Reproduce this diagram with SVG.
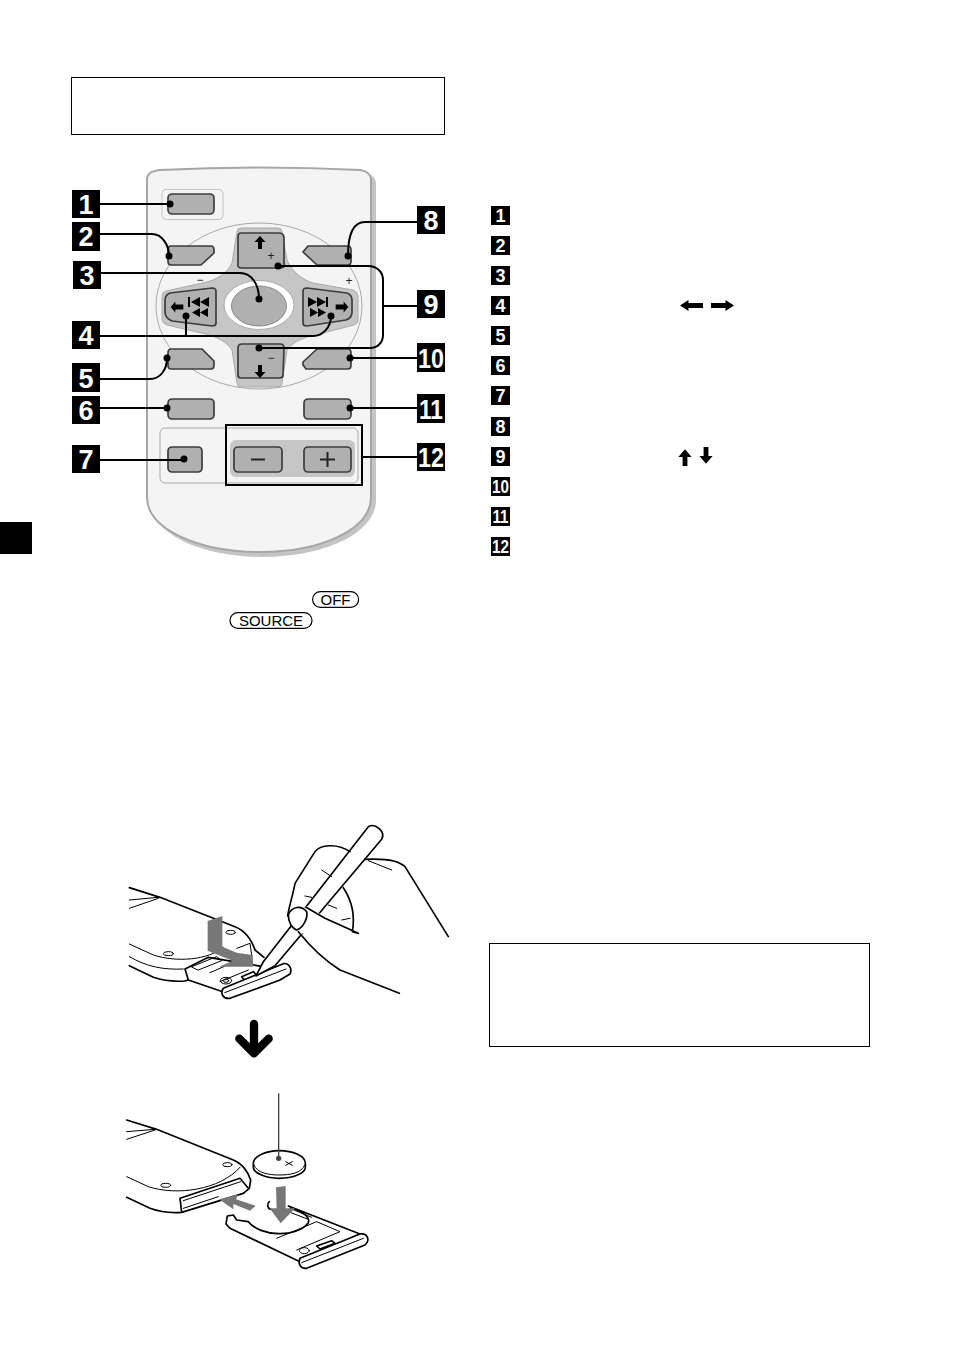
<svg xmlns="http://www.w3.org/2000/svg" width="954" height="1352" viewBox="0 0 954 1352">
<style>
text{font-family:"Liberation Sans",Arial,sans-serif}
.badge{fill:#000}
.bt{fill:#fff;font-weight:bold;text-anchor:middle}
.btn{fill:#b0b0b0;stroke:#3c3c3c;stroke-width:1.7;stroke-linejoin:round}
.wire{fill:none;stroke:#000;stroke-width:2}
.dot{fill:#000}
.ink{fill:none;stroke:#000;stroke-width:5;stroke-linecap:round;stroke-linejoin:round}
.thin{fill:none;stroke:#000;stroke-width:3;stroke-linecap:round;stroke-linejoin:round}
.wf{fill:#fff;stroke:#000;stroke-width:5;stroke-linejoin:round}
.ga{fill:#777}
.k{fill:none;stroke:#000;stroke-width:1.2}
.kt{font-size:15px;fill:#000;text-anchor:middle}
.sym{font-size:12px;fill:#222;text-anchor:middle}
</style>
<defs>
<path id="ar" d="M0,-6 L5.5,0 H2 V7 H-2 V0 H-5.500 Z" fill="#000"/>
<path id="arw" d="M-11.500,0 L-3,-5.500 V-2.500 H11.500 V2.500 H-3 V5.500 Z" fill="#000"/>
</defs>

<rect x="71.500" y="77.500" width="373" height="57" fill="#fff" stroke="#000" stroke-width="1"/>
<rect x="489.500" y="943.500" width="380" height="103" fill="#fff" stroke="#000" stroke-width="1"/>
<rect x="0" y="522" width="32" height="32" fill="#000"/>

<g id="remote">
<path d="M150,184 C150,176 155,174 163,173 Q263,168 364,173 C372,174 376,178 376,184 L376,500 C376,534 323,557 262,557 C202,557 150,534 150,500 Z" fill="#c4c4c4"/>
<path d="M147,180 C147,173 152,171 160,170 Q260,165 360,170 C367,171 371,175 371,180 L371,497 C371,530 320,552 260,552 C200,552 147,530 147,497 Z" fill="#f4f4f4" stroke="#a6a6a6" stroke-width="2"/>
<rect x="162" y="189.500" width="61" height="30" rx="4" fill="none" stroke="#c4c4c4" stroke-width="1"/>
<ellipse cx="259" cy="306" rx="103" ry="83" fill="#f4f4f4" stroke="#aaa" stroke-width="1"/>
<rect x="160" y="428" width="198" height="55" rx="5" fill="none" stroke="#aaa" stroke-width="1"/>
<path d="M237,232 Q237,228 241,228 H278 Q282,228 282,232 L287,260 C292,272 303,280 313,283 L353,290 Q358,292 358,296 V320 Q358,324 354,325 L307,337 C298,340 290,345 287,350 L282,383 Q282,387 278,387 H241 Q237,387 237,383 L232,350 C228,343 218,338 210,335 L167,325 Q162,323 162,319 V296 Q162,292 166,291 L207,282 C218,279 228,272 232,263 Z" fill="#c6c6c6" stroke="#aaa" stroke-width="1"/>
<ellipse cx="259" cy="305" rx="35" ry="24.500" fill="#fff" stroke="#aaa" stroke-width="1"/>
<ellipse cx="259" cy="306" rx="27.500" ry="20" fill="#b0b0b0" stroke="#888" stroke-width="1"/>
<rect x="230" y="440" width="125" height="37" rx="6" fill="#c6c6c6"/>
</g>

<g id="btn-off"><rect class="btn" x="168" y="194" width="46" height="20" rx="4"/></g>
<g id="btn-2"><path class="btn" d="M171,246 H211 Q214,246 214,250 V253 L201,265 H171 Q168,265 168,261 V250 Q168,246 171,246 Z"/></g>
<g id="btn-8"><path class="btn" d="M348,246 H308 L303,252 L317,265 H348 Q351,265 351,261 V250 Q351,246 348,246 Z"/></g>
<g id="btn-5"><path class="btn" d="M171,349 H202 L214,361 V365 Q214,369 211,369 H171 Q168,369 168,365 V353 Q168,349 171,349 Z"/></g>
<g id="btn-10"><path class="btn" d="M348,349 H317 L303,362 V365 L306,369 H348 Q351,369 351,365 V353 Q351,349 348,349 Z"/></g>
<g id="btn-6"><rect class="btn" x="168" y="399" width="46" height="20" rx="4"/></g>
<g id="btn-11"><rect class="btn" x="304" y="399" width="47" height="20" rx="4"/></g>
<g id="btn-7"><rect class="btn" x="168" y="447" width="34" height="25" rx="4"/></g>
<g id="btn-up">
<path class="btn" d="M241,233 H279 Q283,233 284,237 L284,265 Q284,268 280,268 H242 Q237,268 238,264 L238,237 Q238,233 241,233 Z"/>
<use href="#ar" x="260" y="242"/><text class="sym" x="271" y="260" font-size="13">+</text>
</g>
<g id="btn-down">
<path class="btn" d="M242,344 H280 Q284,344 284,348 L283,375 Q283,378 279,378 H241 Q238,378 238,375 L238,348 Q238,344 242,344 Z"/>
<use href="#ar" transform="translate(260,372) rotate(180)"/><text class="sym" x="271" y="362">−</text>
</g>
<g id="btn-left">
<path class="btn" d="M170,293 L212,288 Q216,288 216,291 V323 Q216,326 212,326 L172,321 Q165,318 165,312 V300 Q165,295 170,293 Z"/>
<use href="#arw" transform="translate(177,307) scale(.55,1)"/>
<path d="M188,297 h2 v10 h-2 z M200,297 v10 l-9,-5 z M209,297 v10 l-9,-5 z M200,308 v9 l-8,-4.500 z M208,308 v9 l-8,-4.500 z" fill="#000"/>
</g>
<g id="btn-right">
<path class="btn" d="M307,288 L347,293 Q352,295 352,300 V312 Q352,318 346,320 L307,326 Q303,326 303,323 V291 Q303,288 307,288 Z"/>
<use href="#arw" transform="translate(342,307) scale(-.55,1)"/>
<path d="M308,297 v10 l9,-5 z M317,297 v10 l9,-5 z M326,297 h2 v10 h-2 z M310,308 v9 l8,-4.500 z M318,308 v9 l8,-4.500 z" fill="#000"/>
</g>
<g id="btn-enter"><text class="sym" x="200" y="284">−</text><text class="sym" x="349" y="285" font-size="13">+</text></g>
<g id="btn-minus"><rect class="btn" x="234" y="447" width="48" height="25" rx="4"/><path d="M251,459.500 H265" stroke="#222" stroke-width="2"/></g>
<g id="btn-plus"><rect class="btn" x="304" y="447" width="47" height="25" rx="4"/><path d="M320,459.500 H335 M327.500,452 V467" stroke="#222" stroke-width="2"/></g>
<rect id="box-12" x="226" y="425" width="136" height="60" fill="none" stroke="#000" stroke-width="2"/>

<g id="connectors">
<path class="wire" d="M100,204 H170"/>
<path class="wire" d="M100,234 H152 C162,234 169,245 169,256"/>
<path class="wire" d="M101,273 H240 C252,273 259,285 259,299"/>
<path class="wire" d="M100,336 H313 C323,336 331,327 331,316"/>
<path class="wire" d="M186,336 V316"/>
<path class="wire" d="M100,379 H150 C160,379 167,370 167,358"/>
<path class="wire" d="M100,408 H167"/>
<path class="wire" d="M100,460 H184"/>
<path class="wire" d="M417,222 H365 C355,222 348,232 348,256"/>
<path class="wire" d="M278,266 H368 C377,266 383,272 383,280 V335 C383,343 377,348 370,348 H259"/>
<path class="wire" d="M383,306 H417"/>
<path class="wire" d="M350,358 H417"/>
<path class="wire" d="M350,408 H417"/>
<path class="wire" d="M362,457 H417"/>
<g class="dot">
<circle cx="170" cy="204" r="3.500"/><circle cx="169" cy="256" r="3.500"/><circle cx="259" cy="299" r="3.500"/>
<circle cx="331" cy="316" r="3.500"/><circle cx="186" cy="316" r="3.500"/><circle cx="167" cy="358" r="3.500"/>
<circle cx="167" cy="408" r="3.500"/><circle cx="184" cy="459" r="3.500"/><circle cx="348" cy="256" r="3.500"/>
<circle cx="278" cy="266" r="3.500"/><circle cx="259" cy="348" r="3.500"/><circle cx="350" cy="358" r="3.500"/><circle cx="350" cy="408" r="3.500"/>
</g>
</g>

<g id="label-1"><rect class="badge" x="72" y="190" width="28" height="28"/><text class="bt" x="86" y="214" font-size="27">1</text></g>
<g id="label-2"><rect class="badge" x="72" y="222" width="28" height="29"/><text class="bt" x="86" y="246" font-size="27">2</text></g>
<g id="label-3"><rect class="badge" x="73" y="261" width="28" height="28"/><text class="bt" x="87" y="285" font-size="27">3</text></g>
<g id="label-4"><rect class="badge" x="72" y="321" width="28" height="28"/><text class="bt" x="86" y="345" font-size="27">4</text></g>
<g id="label-5"><rect class="badge" x="72" y="363" width="28" height="29"/><text class="bt" x="86" y="388" font-size="27">5</text></g>
<g id="label-6"><rect class="badge" x="72" y="396" width="28" height="28"/><text class="bt" x="86" y="420" font-size="27">6</text></g>
<g id="label-7"><rect class="badge" x="72" y="445" width="28" height="28"/><text class="bt" x="86" y="469" font-size="27">7</text></g>
<g id="label-8"><rect class="badge" x="417" y="206" width="28" height="28"/><text class="bt" x="431" y="230" font-size="27">8</text></g>
<g id="label-9"><rect class="badge" x="417" y="290" width="28" height="28"/><text class="bt" x="431" y="314" font-size="27">9</text></g>
<g id="label-10"><rect class="badge" x="417" y="343" width="28" height="29"/><text class="bt" x="431" y="368" font-size="27" textLength="26" lengthAdjust="spacingAndGlyphs">10</text></g>
<g id="label-11"><rect class="badge" x="417" y="394" width="28" height="29"/><text class="bt" x="431" y="419" font-size="27" textLength="24" lengthAdjust="spacingAndGlyphs">11</text></g>
<g id="label-12"><rect class="badge" x="417" y="443" width="28" height="28"/><text class="bt" x="431" y="467" font-size="27" textLength="26" lengthAdjust="spacingAndGlyphs">12</text></g>

<g id="list">
<g id="item-1"><rect class="badge" x="491" y="206" width="19" height="19"/><text class="bt" x="500.500" y="222" font-size="18">1</text></g>
<g id="item-2"><rect class="badge" x="491" y="236" width="19" height="19"/><text class="bt" x="500.500" y="252" font-size="18">2</text></g>
<g id="item-3"><rect class="badge" x="491" y="266" width="19" height="19"/><text class="bt" x="500.500" y="282" font-size="18">3</text></g>
<g id="item-4"><rect class="badge" x="491" y="296" width="19" height="19"/><text class="bt" x="500.500" y="312" font-size="18">4</text></g>
<g id="item-5"><rect class="badge" x="491" y="326" width="19" height="19"/><text class="bt" x="500.500" y="342" font-size="18">5</text></g>
<g id="item-6"><rect class="badge" x="491" y="356" width="19" height="19"/><text class="bt" x="500.500" y="372" font-size="18">6</text></g>
<g id="item-7"><rect class="badge" x="491" y="386" width="19" height="19"/><text class="bt" x="500.500" y="402" font-size="18">7</text></g>
<g id="item-8"><rect class="badge" x="491" y="417" width="19" height="19"/><text class="bt" x="500.500" y="433" font-size="18">8</text></g>
<g id="item-9"><rect class="badge" x="491" y="447" width="19" height="19"/><text class="bt" x="500.500" y="463" font-size="18">9</text></g>
<g id="item-10"><rect class="badge" x="491" y="477" width="19" height="19"/><text class="bt" x="500.500" y="493" font-size="18" textLength="17" lengthAdjust="spacingAndGlyphs">10</text></g>
<g id="item-11"><rect class="badge" x="491" y="507" width="19" height="19"/><text class="bt" x="500.500" y="523" font-size="18" textLength="16" lengthAdjust="spacingAndGlyphs">11</text></g>
<g id="item-12"><rect class="badge" x="491" y="537" width="19" height="19"/><text class="bt" x="500.500" y="553" font-size="18" textLength="17" lengthAdjust="spacingAndGlyphs">12</text></g>
<use href="#arw" x="691.500" y="305.500"/>
<use href="#arw" transform="translate(722.500,305.500) rotate(180)"/>
<use href="#ar" transform="translate(685,457) scale(1.200,1.300)"/>
<use href="#ar" transform="translate(706,456) rotate(180) scale(1.200,1.300)"/>
</g>

<g id="key-off"><rect class="k" x="312.600" y="591.600" width="46" height="15.800" rx="7.900" fill="#fff"/><text class="kt" x="335.500" y="604.500">OFF</text></g>
<g id="key-source"><rect class="k" x="230" y="612.600" width="82" height="15.800" rx="7.900"/><text class="kt" x="271" y="625.500">SOURCE</text></g>

<g id="illustration-open" transform="translate(120,820) scale(.33333)">
<path class="ink" d="M28,203 L120,232 L345,320 C375,332 395,360 405,390 L432,412"/>
<path class="thin" d="M28,240 L115,232 M28,265 L115,235"/>
<path class="thin" d="M28,372 L100,405 C170,428 265,420 310,382 M28,410 C80,440 130,450 190,447"/>
<path class="ink" d="M28,437 L100,472 C130,482 165,485 195,483 L205,480"/>
<ellipse class="thin" cx="145" cy="401" rx="15" ry="6"/><ellipse class="thin" cx="332" cy="337" rx="14" ry="6"/>
<path class="ink" d="M195,447 L265,412 L430,440 M195,447 L205,480 L308,515"/>
<path class="thin" d="M215,440 L290,410 L305,422 L235,450 Z M270,458 L345,425 M350,385 L390,370 L395,405 M300,485 L385,450"/>
<ellipse class="thin" cx="318" cy="482" rx="17" ry="10"/><ellipse class="thin" cx="318" cy="482" rx="8" ry="5"/>
<path class="ink" d="M365,470 L400,455 L410,465 L375,482 Z"/>
<path class="ga" d="M263,303 L307,288 V380 L350,398 L398,405 L400,440 L298,440 L338,422 L263,392 Z"/>
<path class="wf" d="M310,505 L490,431 C505,428 518,445 510,462 L480,480 L330,535 C308,537 300,520 310,505 Z"/>
<path class="thin" d="M314,518 L498,447"/>
<path class="wf" d="M745,20 C765,8 798,35 785,58 L465,437 L408,468 L430,425 Z"/>
<path style="fill:#fff" d="M505,285 L570,255 L620,300 L540,345 Z"/>
<path class="ink" d="M690,95 C650,68 600,75 585,95 L525,190 C520,220 505,268 503,288"/>
<path class="ink" style="fill:#fff" d="M505,285 C515,258 545,255 560,275 C565,295 548,325 530,330 C515,325 505,305 505,285 Z"/>
<path class="ink" d="M558,262 L615,295 L715,340 L697,335 C705,290 698,245 670,203"/>
<path class="ink" d="M735,118 C790,115 835,120 855,140 L985,350"/>
<path class="ink" d="M535,335 C565,372 600,412 660,450 L838,520"/>
<path class="thin" d="M745,122 L815,150 M605,150 L635,170 M555,228 L575,232 M625,255 L650,265 M665,300 L690,295"/>
<path d="M402,612 V696 M358,656 L402,700 L446,656" fill="none" stroke="#000" stroke-width="25" stroke-linecap="round" stroke-linejoin="round"/>
</g>

<g id="illustration-insert" transform="translate(120,1080) scale(.33333)">
<path class="ink" d="M20,120 L110,148 L340,240 C365,250 385,275 392,300 L388,325 L370,340"/>
<path class="thin" d="M20,155 L105,148 M20,178 L105,150"/>
<path class="thin" d="M20,290 L85,320 C170,348 300,330 360,262"/>
<path class="ink" d="M20,352 L90,385 C120,396 150,400 185,397 L370,340 M185,397 L180,355 L360,295 L385,325"/>
<path class="thin" d="M190,362 L362,305 M190,385 L295,350"/>
<ellipse class="thin" cx="137" cy="316" rx="15" ry="6"/><ellipse class="thin" cx="322" cy="254" rx="14" ry="6"/>
<path class="wf" d="M400,250 C400,228 440,212 477,212 C520,212 556,228 556,250 V262 C556,280 520,295 477,295 C440,295 400,280 400,262 Z"/>
<path class="thin" d="M402,255 C410,280 450,285 477,285 C510,285 545,280 554,255"/>
<path class="thin" d="M497,245 L517,256 M497,256 L517,245"/>
<path d="M476,40 V235" stroke="#444" stroke-width="4"/>
<circle cx="476" cy="235" r="8" fill="#444"/>
<path class="ink" d="M448,365 C440,372 442,385 452,388"/>
<path class="ink" style="fill:#fff" d="M322,408 L340,405 L350,420 L385,425 C420,470 530,475 565,428 C572,410 545,395 505,378 L720,462 L540,545 L330,445 L318,432 Z"/>
<path class="thin" d="M510,385 L575,412 M505,395 L565,418 M470,475 L590,425 L660,455 L530,510"/>
<ellipse class="thin" cx="553" cy="512" rx="15" ry="9"/>
<path class="ink" d="M590,498 L635,482 L645,490 L600,507 Z"/>
<path class="wf" d="M540,535 L720,462 C742,458 752,480 735,495 L560,565 C540,567 533,550 540,535 Z"/>
<path class="thin" d="M545,548 L730,475"/>
<path class="ga" d="M297,358 L355,343 L348,358 L407,377 L390,392 L340,372 L340,388 Z"/>
<path class="ga" d="M468,322 L497,318 V385 H525 L482,430 L449,385 H470 Z"/>
</g>
</svg>
